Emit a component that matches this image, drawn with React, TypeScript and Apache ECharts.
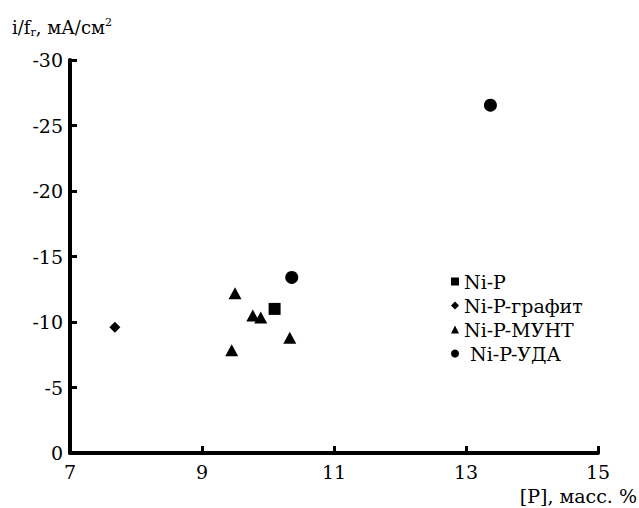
import React, { useEffect, useRef } from "react";
import * as echarts from "echarts";

const FONT = "DejaVu Serif";

const seriesNames = ["Ni-P", "Ni-P-графит", "Ni-P-МУНТ", "Ni-P-УДА"];
const symbols = ["rect", "diamond", "triangle", "circle"];
const symbolSizes = [12, 11, 13, 13];

const niP: number[][] = [[10.1, -11.0]];
const niPGraphite: number[][] = [[7.68, -9.6]];
const niPMWNT: number[][] = [
  [9.5, -12.2],
  [9.77, -10.5],
  [9.89, -10.35],
  [9.45, -7.85],
  [10.33, -8.8],
];
const niPUDA: number[][] = [
  [10.36, -13.4],
  [13.37, -26.55],
];
const allData = [niP, niPGraphite, niPMWNT, niPUDA];

const xTicks = { min: 7, max: 15, interval: 2 };
const yTicks = { min: -30, max: 0, interval: 5 };

export default function App() {
  const ref = useRef<HTMLDivElement>(null);
  useEffect(() => {
    if (!ref.current) return;
    const chart = echarts.init(ref.current, null, { renderer: "svg" });
    const axisLine = { show: true, onZero: false, lineStyle: { color: "black", width: 4, opacity: 1 } };
    const axisTick = { show: true, inside: true, length: 7, lineStyle: { color: "black", width: 3, opacity: 1 } };
    chart.setOption({
      animation: false,
      backgroundColor: "#fff",
      grid: { left: 70, right: 41, top: 60, bottom: 55 },
      xAxis: {
        type: "value",
        min: xTicks.min,
        max: xTicks.max,
        interval: xTicks.interval,
        position: "bottom",
        axisLine,
        axisTick,
        splitLine: { show: false },
        axisLabel: { fontFamily: FONT, fontSize: 19, color: "#000", margin: 9 },
      },
      yAxis: {
        type: "value",
        min: yTicks.min,
        max: yTicks.max,
        interval: yTicks.interval,
        inverse: true,
        position: "left",
        axisLine,
        axisTick,
        splitLine: { show: false },
        axisLabel: { fontFamily: FONT, fontSize: 19, color: "#000", margin: 7 },
      },
      legend: {
        orient: "vertical",
        left: 446,
        top: 267,
        itemWidth: 8,
        itemHeight: 8,
        itemGap: 5,
        textStyle: { fontFamily: FONT, fontSize: 19, color: "#000" },
        formatter: (name: string) => (name === "Ni-P-УДА" ? " " + name : name),
        data: seriesNames.map((n, i) => ({ name: n, icon: symbols[i], itemStyle: { color: "#000", opacity: 1 } })),
      },
      series: seriesNames.map((name, i) => ({
        name,
        type: "scatter",
        data: allData[i],
        symbol: symbols[i],
        symbolSize: i === 2 ? [13, 12] : symbolSizes[i],
        itemStyle: { color: "#000", opacity: 1 },
      })),
      graphic: [
        {
          type: "text",
          left: 12,
          top: 17,
          style: {
            text: "i/f{sub|r}, мА/см{sup|2}",
            fontFamily: FONT,
            fontSize: 18,
            fill: "#000",
            rich: {
              sub: { fontFamily: FONT, fontSize: 11, verticalAlign: "bottom", padding: [10, 0, 0, 0] },
              sup: { fontFamily: FONT, fontSize: 11, verticalAlign: "top", padding: [0, 0, 9, 0] },
            },
          },
        },
        {
          type: "text",
          right: 2,
          top: 486,
          style: { text: "[P], масс. %", fontFamily: FONT, fontSize: 19, fill: "#000" },
        },
      ],
    });
    return () => chart.dispose();
  }, []);
  return <div ref={ref} style={{ width: 639, height: 508, position: "absolute", left: 0, top: 0 }} />;
}
